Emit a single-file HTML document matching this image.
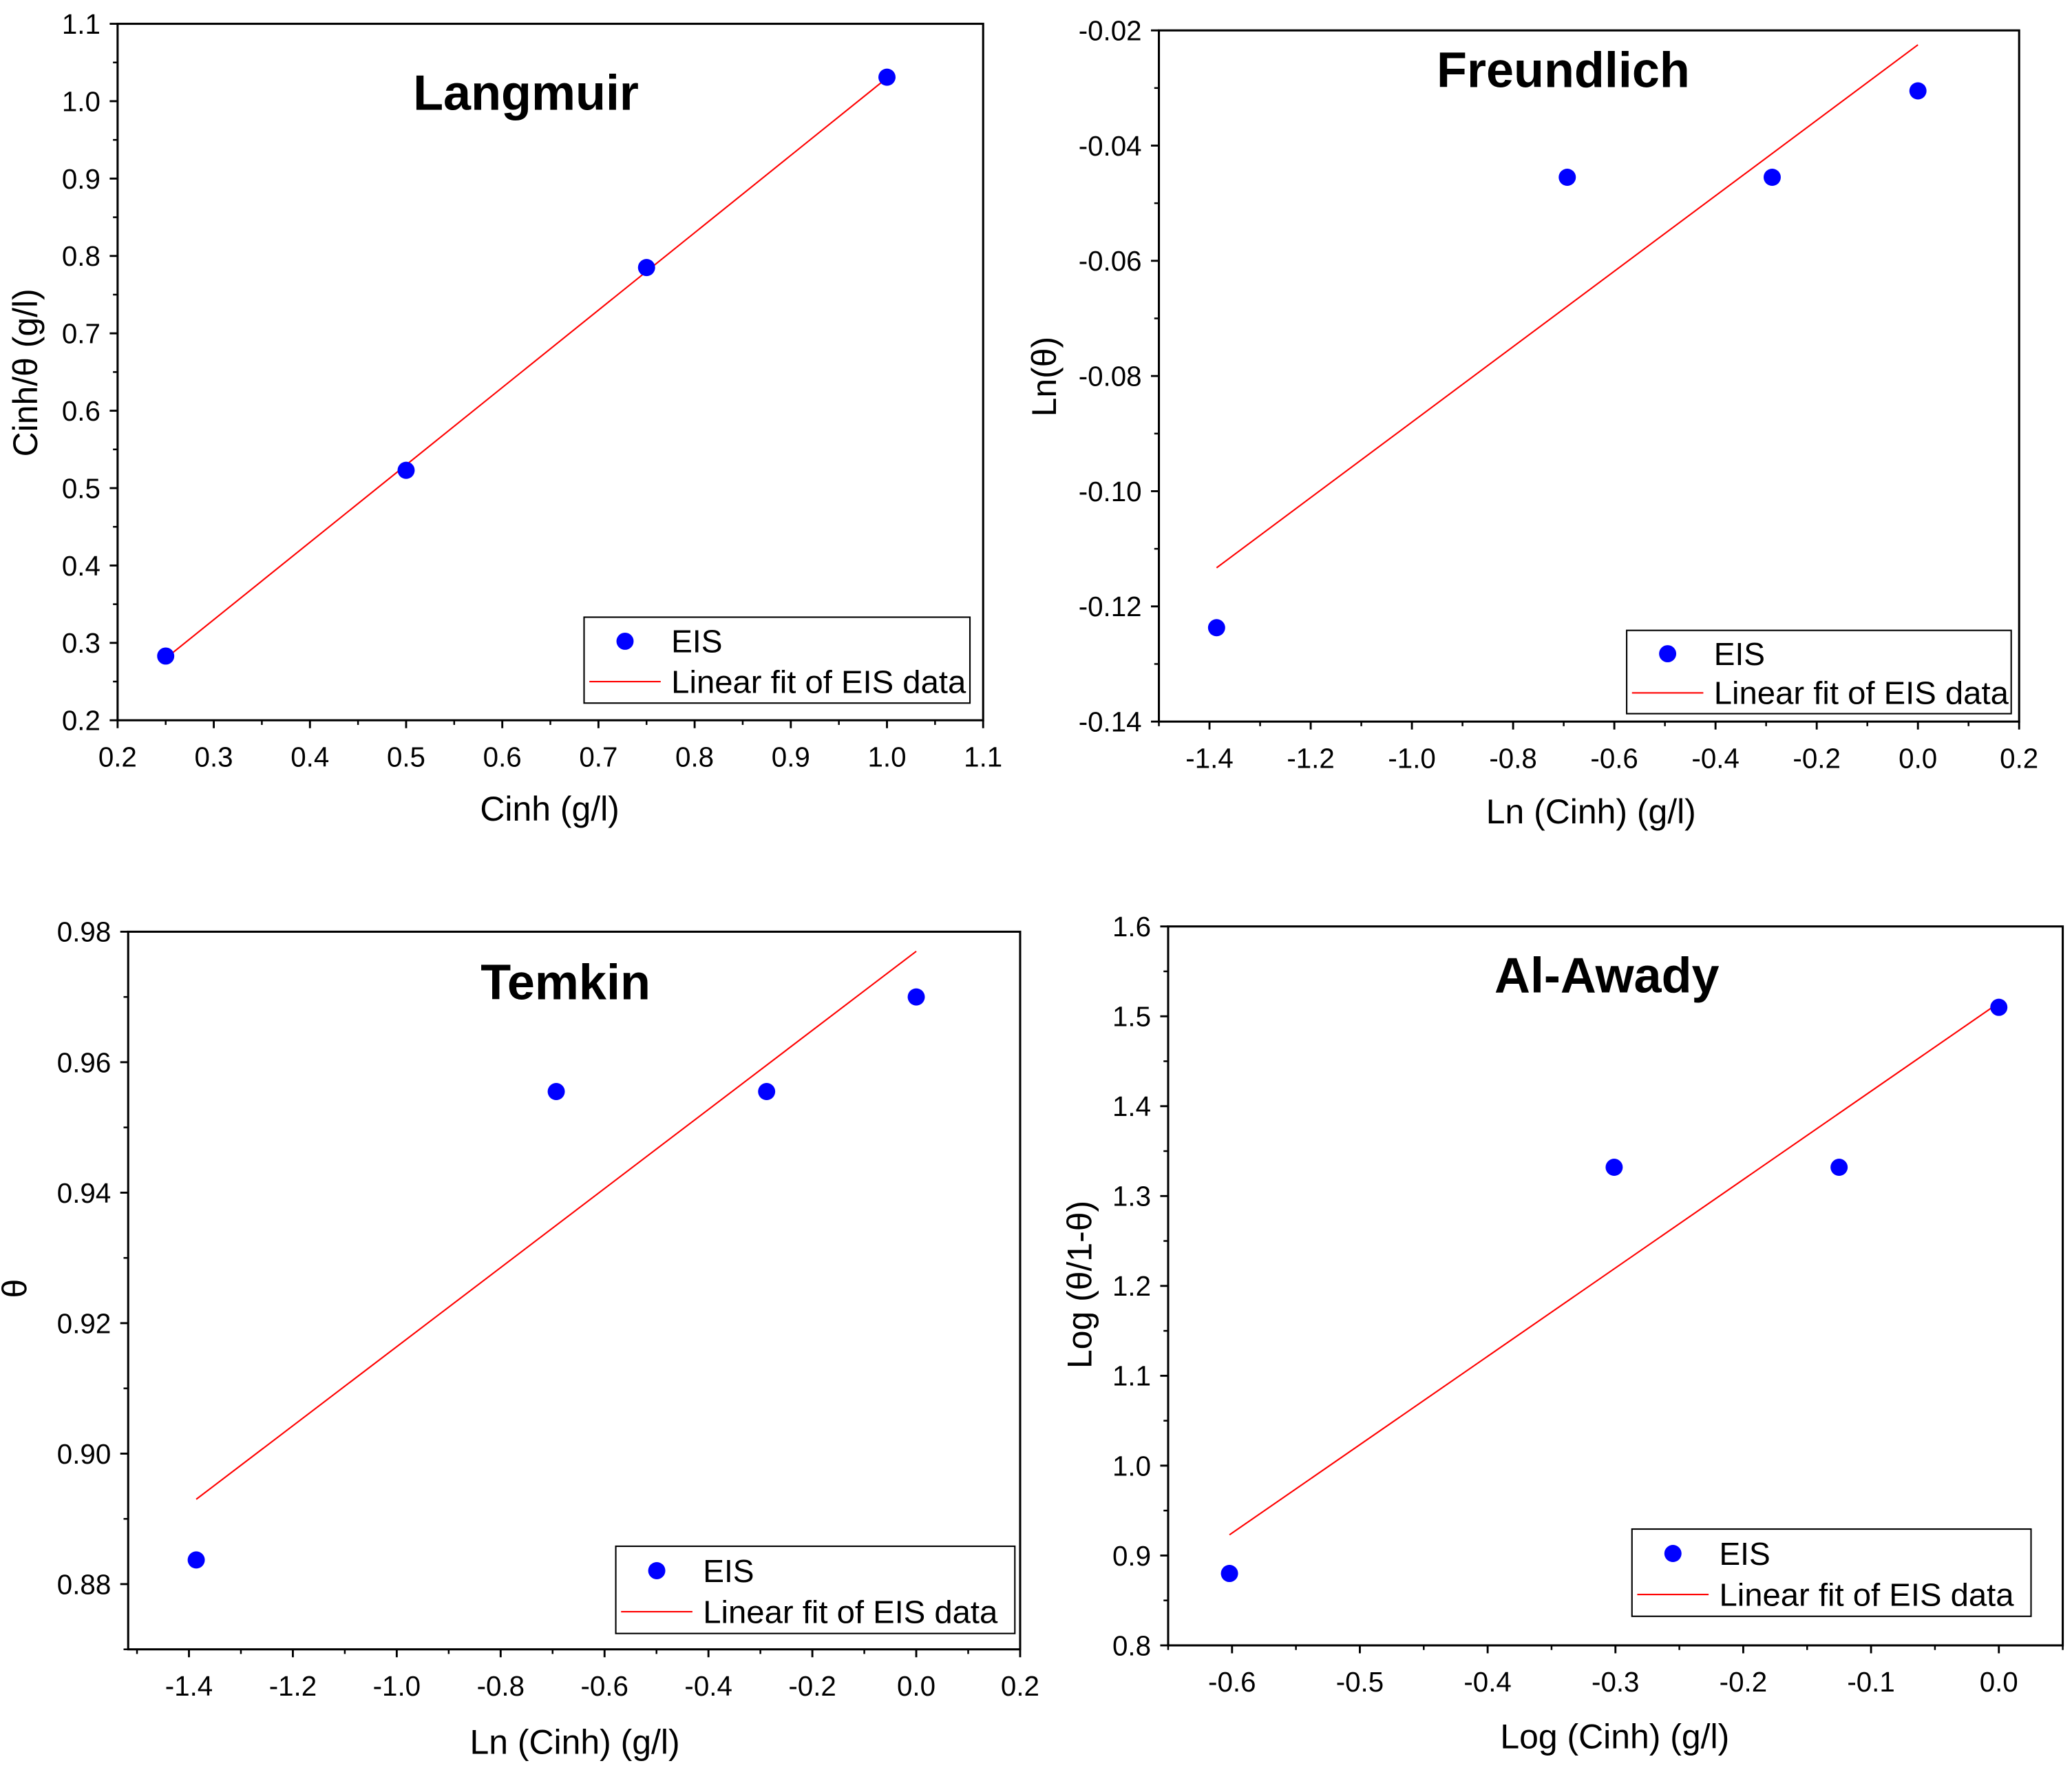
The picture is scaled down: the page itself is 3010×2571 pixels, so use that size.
<!DOCTYPE html>
<html><head><meta charset="utf-8"><style>html,body{margin:0;padding:0;background:#fff}svg{display:block}</style></head>
<body>
<svg id="fig" width="3010" height="2571" viewBox="0 0 1568 1339.3" xmlns="http://www.w3.org/2000/svg" font-family="Liberation Sans, Arial, sans-serif"></svg>
<script>
// Langmuir
const langX = [0.25, 0.5, 0.75, 1.0];
const langY = [0.283, 0.523, 0.785, 1.031];
const langFit = [0.280, 1.030];
// Freundlich
const freX = [-1.386, -0.693, -0.288, 0.0];
const freY = [-0.1237, -0.0455, -0.0455, -0.0305];
const freFit = [-0.1133, -0.0225];
// Temkin
const temX = [-1.386, -0.693, -0.288, 0.0];
const temY = [0.8837, 0.9555, 0.9555, 0.970];
const temFit = [0.893, 0.977];
// Al-Awady
const awaX = [-0.602, -0.301, -0.125, 0.0];
const awaY = [0.880, 1.332, 1.332, 1.510];
const awaFit = [0.923, 1.515];
// tick labels
const langXTicks = ["0.2","0.3","0.4","0.5","0.6","0.7","0.8","0.9","1.0","1.1"];
const langYTicks = ["0.2","0.3","0.4","0.5","0.6","0.7","0.8","0.9","1.0","1.1"];
const freXTicks = ["-1.4","-1.2","-1.0","-0.8","-0.6","-0.4","-0.2","0.0","0.2"];
const freYTicks = ["-0.14","-0.12","-0.10","-0.08","-0.06","-0.04","-0.02"];
const temXTicks = ["-1.4","-1.2","-1.0","-0.8","-0.6","-0.4","-0.2","0.0","0.2"];
const temYTicks = ["0.88","0.90","0.92","0.94","0.96","0.98"];
const awaXTicks = ["-0.6","-0.5","-0.4","-0.3","-0.2","-0.1","0.0"];
const awaYTicks = ["0.8","0.9","1.0","1.1","1.2","1.3","1.4","1.5","1.6"];

const NS = "http://www.w3.org/2000/svg";
const svg = document.getElementById('fig');
function mk(tag, attrs, parent, text) {
  const e = document.createElementNS(NS, tag);
  for (const k in attrs) e.setAttribute(k, attrs[k]);
  if (text !== undefined) e.textContent = text;
  (parent || svg).appendChild(e);
  return e;
}

function panel(cfg) {
  const g = mk('g', {});
  
  
  const sx = v => cfg.box[0] + (v - cfg.xr[0]) / (cfg.xr[1] - cfg.xr[0]) * (cfg.box[2] - cfg.box[0]);
  const sy = v => cfg.box[3] - (v - cfg.yr[0]) / (cfg.yr[1] - cfg.yr[0]) * (cfg.box[3] - cfg.box[1]);
  const [L, T, R, B] = cfg.box;
  const frame = mk('rect', {x: L, y: T, width: R - L, height: B - T, fill: 'none', stroke: '#000', 'stroke-width': 1.6}, g);
  
  
  cfg.xTicks.forEach((t, i) => {
    const v = parseFloat(t);
    const x = sx(v);
    mk('line', {x1: x, y1: B, x2: x, y2: B + 6, stroke: '#000', 'stroke-width': 1.5}, g);
    const lb = mk('text', {x: x, y: B + 35, 'font-size': 21, 'text-anchor': 'middle'}, g, t);
    
    
    if (i < cfg.xTicks.length - 1) {
      const xm = sx(v + cfg.xStep / 2);
      mk('line', {x1: xm, y1: B, x2: xm, y2: B + 3.5, stroke: '#000', 'stroke-width': 1.3}, g);
    }
  });
  cfg.yTicks.forEach((t, i) => {
    const v = parseFloat(t);
    const y = sy(v);
    mk('line', {x1: L, y1: y, x2: L - 6, y2: y, stroke: '#000', 'stroke-width': 1.5}, g);
    const lb = mk('text', {x: L - 13, y: y + 7.5, 'font-size': 21, 'text-anchor': 'end'}, g, t);
    
    
    if (i < cfg.yTicks.length - 1) {
      const ym = sy(v + cfg.yStep / 2);
      mk('line', {x1: L, y1: ym, x2: L - 3.5, y2: ym, stroke: '#000', 'stroke-width': 1.3}, g);
    }
  });
  (cfg.extraXMinor || []).forEach(v => { const x = sx(v); mk('line', {x1: x, y1: B, x2: x, y2: B + 3.5, stroke: '#000', 'stroke-width': 1.3}, g); });
  (cfg.extraYMinor || []).forEach(v => { const y = sy(v); mk('line', {x1: L, y1: y, x2: L - 3.5, y2: y, stroke: '#000', 'stroke-width': 1.3}, g); });
  const fx = cfg.xs;
  const fit = mk('line', {x1: sx(fx[0]), y1: sy(cfg.fit[0]), x2: sx(fx[fx.length - 1]), y2: sy(cfg.fit[1]), stroke: '#ff0000', 'stroke-width': 1.1}, g);
  
  
  cfg.xs.forEach((xv, i) => {
    const c = mk('circle', {cx: sx(xv), cy: sy(cfg.ys[i]), r: 6.5, fill: '#0000ff'}, g);
    
    
  });
  const tt = mk('text', {x: cfg.title[1], y: cfg.title[2], 'font-size': 37.5, 'font-weight': 'bold', 'text-anchor': 'middle'}, g, cfg.title[0]);
  
  
  const xt = mk('text', {x: cfg.xTitle[1], y: cfg.xTitle[2], 'font-size': 26, 'text-anchor': 'middle'}, g, cfg.xTitle[0]);
  
  
  const yt = mk('text', {x: 0, y: 0, 'font-size': 26, 'text-anchor': 'middle', transform: `translate(${cfg.yTitle[1]},${cfg.yTitle[2]}) rotate(-90)`}, g, cfg.yTitle[0]);
  
  
  const [lx, ly, lx2, ly2] = cfg.legend;
  const lg = mk('g', {}, g);
  
  
  mk('rect', {x: lx, y: ly, width: lx2 - lx, height: ly2 - ly, fill: '#fff', stroke: '#000', 'stroke-width': 1.1}, lg);
  const r1 = ly + (ly2 - ly) * 0.28, r2 = ly + (ly2 - ly) * 0.75;
  const lm = mk('circle', {cx: lx + 31, cy: r1, r: 6.5, fill: '#0000ff'}, lg);
  
  
  mk('text', {x: lx + 66, y: r1 + 8.5, 'font-size': 24}, lg, 'EIS');
  const ll = mk('line', {x1: lx + 4, y1: r2, x2: lx + 58, y2: r2, stroke: '#ff0000', 'stroke-width': 1.1}, lg);
  
  
  mk('text', {x: lx + 66, y: r2 + 8.5, 'font-size': 24, textLength: 223, lengthAdjust: 'spacingAndGlyphs'}, lg, 'Linear fit of EIS data');
}

panel({name: 'langmuir', box: [89, 18, 744, 545], xr: [0.2, 1.1], yr: [0.2, 1.1], xStep: 0.1, yStep: 0.1,
  xTicks: langXTicks, yTicks: langYTicks, xs: langX, ys: langY, fit: langFit,
  title: ['Langmuir', 398, 83], xTitle: ['Cinh (g/l)', 416, 621], yTitle: ['Cinh/θ (g/l)', 28, 282],
  legend: [442, 467, 734, 532]});
panel({name: 'freundlich', box: [877, 23, 1528, 546], xr: [-1.5, 0.2], yr: [-0.14, -0.02], xStep: 0.2, yStep: 0.02,
  xTicks: freXTicks, yTicks: freYTicks, xs: freX, ys: freY, fit: freFit, extraXMinor: [-1.5],
  title: ['Freundlich', 1183, 66], xTitle: ['Ln (Cinh) (g/l)', 1204, 623], yTitle: ['Ln(θ)', 799, 285],
  legend: [1231, 477, 1522, 540]});
panel({name: 'temkin', box: [97, 705, 772, 1248], xr: [-1.517, 0.2], yr: [0.87, 0.98], xStep: 0.2, yStep: 0.02,
  xTicks: temXTicks, yTicks: temYTicks, xs: temX, ys: temY, fit: temFit, extraXMinor: [-1.5], extraYMinor: [0.87],
  title: ['Temkin', 428, 756], xTitle: ['Ln (Cinh) (g/l)', 435, 1327], yTitle: ['θ', 20, 975],
  legend: [466, 1170, 768, 1236]});
panel({name: 'al-awady', box: [884, 701, 1561, 1245], xr: [-0.65, 0.05], yr: [0.8, 1.6], xStep: 0.1, yStep: 0.1,
  xTicks: awaXTicks, yTicks: awaYTicks, xs: awaX, ys: awaY, fit: awaFit, extraXMinor: [-0.65, 0.05],
  title: ['Al-Awady', 1216, 751], xTitle: ['Log (Cinh) (g/l)', 1222, 1323], yTitle: ['Log (θ/1-θ)', 826, 972],
  legend: [1235, 1157, 1537, 1223]});
</script>
</body></html>
